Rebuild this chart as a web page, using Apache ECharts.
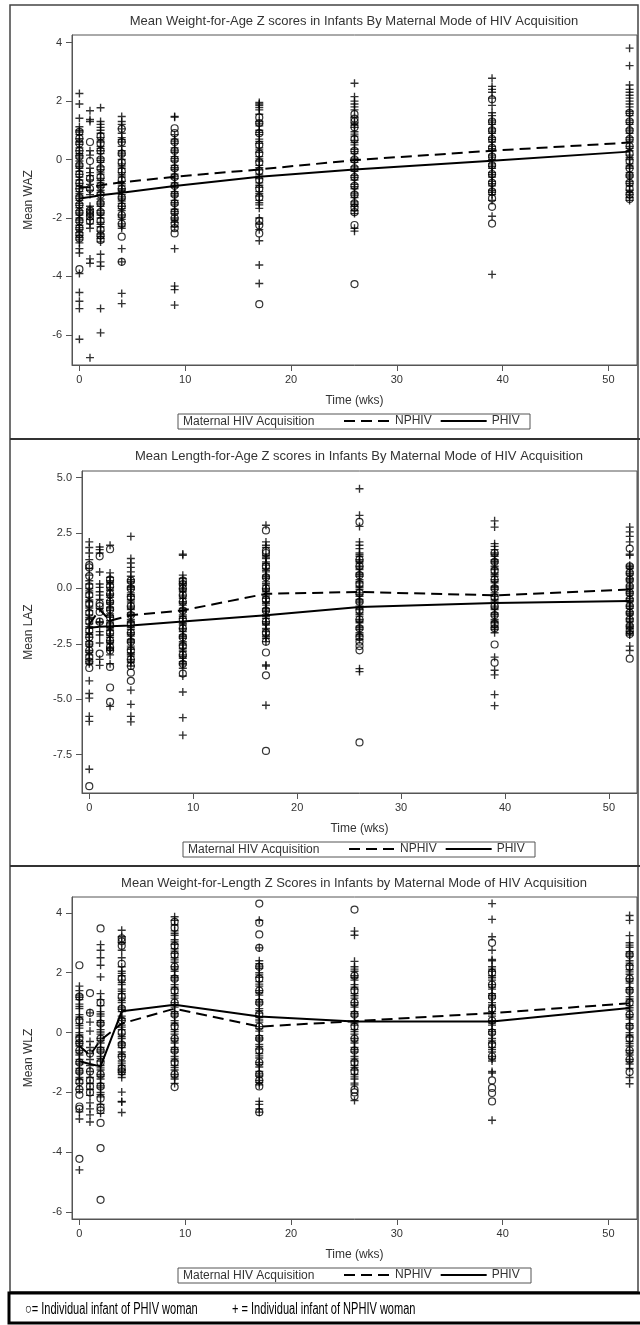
<!DOCTYPE html>
<html>
<head>
<meta charset="utf-8">
<script src="https://cdn.jsdelivr.net/npm/echarts@6/dist/echarts.min.js"></script>
<style>
html, body { margin: 0; padding: 0; background: #fff; }
#chart { width: 640px; height: 1325px; }
</style>
</head>
<body>
<div id="chart"></div>
<script>
// visit weeks, shared by all three panels
var weeks = [0, 1, 2, 4, 9, 17, 26, 39, 52];
var xTicks = [0, 10, 20, 30, 40, 50];

// ---- weight-for-age ----
var wazTicks = [-6, -4, -2, 0, 2, 4];
var wazMeanNphiv = [-0.95, -0.95, -0.88, -0.78, -0.59, -0.34, -0.02, 0.30, 0.58];
var wazMeanPhiv = [-1.33, -1.28, -1.22, -1.14, -0.91, -0.59, -0.34, -0.04, 0.27];
// one list per week (circles = infants of PHIV women)
var wazCirc = [
    [0.95, 0.72, 0.55, 0.3, 0.1, -0.2, -0.5, -0.8, -1.0, -1.3, -1.55, -1.8, -2.1, -2.35, -2.55, -2.7, -3.75],
    [0.6, -0.05, -0.65, -1.0, -1.75, -1.85, -1.95, -2.1],
    [0.8, 0.55, 0.3, 0.0, -0.3, -0.6, -0.9, -1.2, -1.5, -1.8, -2.1, -2.4, -2.6, -2.75],
    [1.05, 0.6, 0.2, -0.1, -0.4, -0.7, -1.0, -1.3, -1.6, -1.9, -2.2, -2.64, -3.5],
    [1.07, 0.9, 0.6, 0.3, 0.0, -0.3, -0.6, -0.9, -1.2, -1.5, -1.8, -2.0, -2.2, -2.35, -2.53],
    [1.44, 1.25, 0.9, 0.5, 0.2, -0.1, -0.4, -0.7, -1.0, -1.3, -2.1, -2.25, -2.53, -4.95],
    [1.55, 1.4, 1.3, 1.1, 0.7, 0.3, 0.0, -0.3, -0.6, -0.9, -1.2, -1.5, -1.65, -1.8, -2.24, -4.26],
    [2.06, 1.3, 1.0, 0.7, 0.4, 0.1, -0.2, -0.5, -0.8, -1.1, -1.33, -1.62, -2.19],
    [1.6, 1.3, 1.0, 0.7, 0.45, 0.2, -0.05, -0.3, -0.55, -0.8, -1.0, -1.2, -1.35]
];
// plus = infants of NPHIV women
var wazPlus = [
    [2.26, 1.9, 1.41, 1.12, 1.0, 0.85, 0.6, 0.4, 0.3, 0.2, 0.05, -0.05, -0.15, -0.3, -0.4, -0.6, -0.7, -0.9, -1.0, -1.1, -1.25, -1.4, -1.5, -1.65, -1.75, -1.9, -2.0, -2.15, -2.25, -2.4, -2.5, -2.6, -2.75, -2.85, -3.05, -3.2, -3.9, -4.55, -4.85, -5.1, -6.15,
     0.94, 0.71, 0.52, 0.13, -0.23, -0.51, -0.82, -1.17, -1.33, -1.57, -1.83, -2.07, -2.33, -2.67],
    [1.67, 1.37, 1.3, 0.3, 0.15, -0.3, -0.45, -0.55, -0.7, -0.85, -1.05, -1.2, -1.6, -1.7, -1.8, -1.9, -2.05, -2.2, -2.35, -3.4, -3.55, -6.78],
    [1.77, 1.3, 1.2, 1.1, 1.0, 0.9, 0.75, 0.6, 0.45, 0.3, 0.2, 0.05, -0.1, -0.25, -0.35, -0.5, -0.65, -0.8, -0.95, -1.05, -1.2, -1.35, -1.45, -1.6, -1.75, -1.9, -2.0, -2.15, -2.3, -2.45, -2.55, -2.7, -2.82, -3.24, -3.5, -3.65, -5.1, -5.93,
     0.67, 0.38, -0.03, -0.43, -0.72, -1.13, -1.52, -1.83, -2.22, -2.63],
    [1.47, 1.3, 1.2, 1.05, 0.9, 0.75, 0.6, 0.45, 0.3, 0.15, 0.0, -0.15, -0.3, -0.45, -0.6, -0.75, -0.9, -1.0, -1.1, -1.2, -1.35, -1.5, -1.6, -1.75, -1.9, -2.05, -2.2, -2.35, -3.05, -3.5, -4.58, -4.93,
     0.68, 0.22, -0.22, -0.53, -0.83, -1.05, -1.28, -1.42, -1.68, -1.97, -2.28],
    [1.47, 1.45, 0.85, 0.7, 0.55, 0.4, 0.25, 0.1, -0.05, -0.2, -0.35, -0.5, -0.65, -0.8, -0.95, -1.1, -1.25, -1.4, -1.55, -1.7, -1.85, -2.0, -2.15, -2.3, -3.05, -4.33, -4.45, -4.98,
     0.63, 0.32, 0.03, -0.28, -0.57, -0.88, -1.17, -1.48, -1.78, -2.07],
    [1.95, 1.9, 1.85, 1.78, 1.7, 1.55, 1.3, 1.15, 1.0, 0.85, 0.7, 0.55, 0.4, 0.25, 0.1, -0.05, -0.2, -0.35, -0.5, -0.65, -0.8, -0.95, -1.1, -1.25, -1.4, -1.55, -1.67, -2.0, -2.2, -2.4, -2.78, -3.61, -4.24,
     1.22, 0.93, 0.62, 0.33, 0.02, -0.28, -0.57, -0.88, -1.17, -1.48],
    [2.61, 2.15, 2.0, 1.9, 1.8, 1.7, 1.45, 1.25, 1.1, 0.95, 0.8, 0.65, 0.5, 0.35, 0.2, 0.05, -0.1, -0.25, -0.4, -0.55, -0.7, -0.85, -1.0, -1.15, -1.3, -1.45, -1.6, -1.75, -1.85, -2.35, -2.45,
     1.18, 0.87, 0.58, 0.27, -0.02, -0.33, -0.62, -0.93, -1.22, -1.53],
    [2.78, 2.5, 2.4, 2.3, 2.1, 1.85, 1.6, 1.5, 1.35, 1.2, 1.05, 0.9, 0.75, 0.6, 0.45, 0.3, 0.15, 0.0, -0.15, -0.3, -0.45, -0.6, -0.75, -0.9, -1.05, -1.2, -1.4, -1.94, -3.93,
     1.28, 0.97, 0.68, 0.37, 0.08, -0.23, -0.52, -0.83, -1.12],
    [3.81, 3.21, 2.55, 2.4, 2.3, 2.2, 2.1, 2.0, 1.9, 1.8, 1.65, 1.5, 1.35, 1.2, 1.05, 0.9, 0.75, 0.6, 0.45, 0.3, 0.15, 0.0, -0.15, -0.3, -0.45, -0.6, -0.75, -0.9, -1.05, -1.2, -1.3, -1.4,
     1.58, 1.27, 0.98, 0.67, 0.38, 0.07, -0.22, -0.53, -0.82, -1.13]
];

// ---- length-for-age ----
var lazTicks = [-7.5, -5.0, -2.5, 0.0, 2.5, 5.0];
var lazMeanNphiv = [-1.62, -0.95, -1.45, -1.21, -0.99, -0.24, -0.16, -0.31, -0.05];
var lazMeanPhiv = [-1.77, -1.73, -1.70, -1.67, -1.49, -1.21, -0.84, -0.66, -0.57];
var lazCirc = [
    [1.05, 0.95, 0.56, 0.1, -0.3, -0.7, -1.1, -1.5, -1.9, -2.2, -2.5, -2.8, -3.1, -3.3, -3.59, -8.92],
    [1.45, -0.68, -0.8, -1.06, -1.5, -2.94],
    [1.77, 0.4, 0.1, -0.25, -0.6, -0.95, -1.3, -1.65, -2.0, -2.35, -2.65, -2.8, -3.54, -4.47, -5.12],
    [0.35, 0.0, -0.4, -0.8, -1.2, -1.6, -2.0, -2.4, -2.8, -3.2, -3.5, -3.8, -4.17],
    [0.35, 0.2, 0.0, -0.3, -0.6, -1.0, -1.4, -1.8, -2.2, -2.6, -3.0, -3.4, -3.84],
    [2.62, 1.7, 1.6, 1.0, 0.5, 0.0, -0.5, -1.0, -1.5, -2.0, -2.4, -2.89, -3.92, -7.33],
    [3.0, 1.3, 1.0, 0.6, 0.2, -0.2, -0.6, -1.0, -1.4, -1.8, -2.2, -2.4, -2.6, -2.79, -6.95],
    [1.6, 1.2, 0.8, 0.4, 0.0, -0.4, -0.8, -1.2, -1.6, -1.8, -2.53, -3.35],
    [1.8, 1.0, 0.7, 0.4, 0.1, -0.2, -0.5, -0.8, -1.1, -1.4, -1.7, -1.9, -2.05, -3.17]
];
var lazPlus = [
    [2.1, 1.85, 1.6, 1.3, 0.9, 0.6, 0.35, 0.2, 0.0, -0.2, -0.4, -0.6, -0.8, -1.0, -1.2, -1.4, -1.6, -1.8, -2.0, -2.2, -2.4, -2.6, -2.8, -3.0, -3.2, -3.4, -4.17, -4.74, -4.95, -5.77, -6.0, -8.16,
     -0.11, -0.52, -0.88, -1.31, -1.72, -2.08, -2.51, -2.89, -3.31],
    [1.87, 1.75, 1.6, 0.74, 0.2, 0.05, -0.15, -0.3, -0.5, -0.9, -1.5, -1.55, -1.95, -2.1, -2.46, -3.2, -3.47],
    [1.95, 0.7, 0.5, 0.35, 0.2, 0.05, -0.1, -0.25, -0.4, -0.55, -0.7, -0.85, -1.0, -1.15, -1.3, -1.45, -1.6, -1.75, -1.9, -2.05, -2.2, -2.35, -2.5, -2.65, -2.8, -3.0, -3.4, -5.32,
     0.28, -0.03, -0.32, -0.63, -0.92, -1.23, -1.52, -1.83, -2.12, -2.43, -2.72],
    [2.35, 1.35, 1.15, 0.95, 0.75, 0.55, 0.4, 0.25, 0.1, -0.05, -0.2, -0.35, -0.5, -0.65, -0.8, -0.95, -1.1, -1.25, -1.4, -1.55, -1.7, -1.85, -2.0, -2.15, -2.3, -2.45, -2.6, -2.75, -2.9, -3.05, -3.2, -3.35, -3.5, -4.59, -5.23, -5.77, -6.02,
     0.32, 0.03, -0.28, -0.57, -0.88, -1.17, -1.48, -1.77, -2.08, -2.37, -2.68, -2.97, -3.28],
    [1.55, 1.5, 0.6, 0.45, 0.3, 0.15, 0.0, -0.15, -0.3, -0.45, -0.6, -0.75, -0.9, -1.05, -1.2, -1.35, -1.5, -1.65, -1.8, -1.95, -2.1, -2.25, -2.4, -2.55, -2.7, -2.85, -3.0, -3.15, -3.3, -3.45, -3.6, -3.95, -4.67, -5.83, -6.62,
     0.22, -0.07, -0.38, -0.67, -0.98, -1.27, -1.58, -1.87, -2.18, -2.47, -2.78, -3.07, -3.38],
    [2.85, 2.1, 1.95, 1.85, 1.5, 1.35, 1.2, 1.05, 0.9, 0.75, 0.6, 0.45, 0.3, 0.15, 0.0, -0.15, -0.3, -0.45, -0.6, -0.75, -0.9, -1.05, -1.2, -1.35, -1.5, -1.65, -1.8, -1.95, -2.1, -2.25, -2.4, -3.45, -3.5, -5.27,
     1.42, 1.13, 0.82, 0.53, 0.22, -0.07, -0.38, -0.67, -0.98, -1.27, -1.58, -1.87, -2.18],
    [4.5, 3.3, 2.8, 2.1, 1.95, 1.8, 1.6, 1.45, 1.3, 1.15, 1.0, 0.85, 0.7, 0.55, 0.4, 0.25, 0.1, -0.05, -0.2, -0.35, -0.5, -0.65, -0.8, -0.95, -1.1, -1.25, -1.4, -1.55, -1.7, -1.85, -2.0, -2.15, -2.3, -3.62, -3.75,
     1.52, 1.23, 0.92, 0.63, 0.32, 0.03, -0.28, -0.57, -0.88, -1.17, -1.48, -1.77, -2.08],
    [3.05, 2.77, 2.02, 1.9, 1.75, 1.6, 1.45, 1.3, 1.15, 1.0, 0.85, 0.7, 0.55, 0.4, 0.25, 0.1, -0.05, -0.2, -0.35, -0.5, -0.65, -0.8, -0.95, -1.1, -1.25, -1.4, -1.55, -1.7, -1.85, -2.0, -3.1, -3.69, -3.9, -4.79, -5.29,
     1.52, 1.23, 0.92, 0.63, 0.32, 0.03, -0.28, -0.57, -0.88, -1.17, -1.48, -1.77],
    [2.77, 2.55, 2.35, 2.1, 1.55, 1.5, 1.05, 0.9, 0.75, 0.6, 0.45, 0.3, 0.15, 0.0, -0.15, -0.3, -0.45, -0.6, -0.75, -0.9, -1.05, -1.2, -1.35, -1.5, -1.65, -1.8, -1.95, -2.1, -2.6, -2.8,
     0.98, 0.67, 0.38, 0.07, -0.22, -0.53, -0.82, -1.13, -1.42, -1.73, -2.02]
];

// ---- weight-for-length ----
var wlzTicks = [-6, -4, -2, 0, 2, 4];
var wlzMeanNphiv = [-0.45, -0.75, -0.25, 0.30, 0.80, 0.20, 0.38, 0.65, 0.98];
var wlzMeanPhiv = [-0.96, -1.05, -1.13, 0.71, 0.93, 0.54, 0.37, 0.37, 0.82];
var wlzCirc = [
    [2.25, 1.2, 0.4, -0.2, -0.35, -0.6, -1.0, -1.3, -1.65, -1.9, -2.08, -2.47, -2.55, -4.22],
    [1.32, 0.66, -0.7, -1.3, -1.6, -1.8, -2.0],
    [3.48, 1.0, 0.3, -0.2, -0.6, -1.0, -1.4, -1.8, -2.2, -2.5, -2.6, -3.02, -3.86, -5.59],
    [3.15, 3.05, 2.9, 2.3, 1.8, 1.2, 0.8, 0.4, 0.0, -0.4, -0.8, -1.2, -1.3],
    [3.7, 3.5, 2.9, 2.6, 2.2, 1.8, 1.4, 1.0, 0.6, 0.2, -0.2, -0.6, -1.0, -1.4, -1.82],
    [4.31, 3.67, 3.28, 2.83, 2.2, 1.8, 1.4, 1.0, 0.6, 0.2, -0.2, -0.6, -1.0, -1.4, -1.6, -1.8, -2.66],
    [4.11, 1.9, 1.4, 1.0, 0.6, 0.2, -0.2, -0.6, -1.0, -1.3, -1.91, -2.0, -2.13],
    [3.0, 2.0, 1.6, 1.2, 0.8, 0.4, 0.0, -0.4, -0.8, -1.6, -1.85, -2.02, -2.3],
    [2.6, 2.2, 1.8, 1.4, 1.0, 0.6, 0.2, -0.2, -0.6, -0.9, -1.32]
];
var wlzPlus = [
    [1.55, 1.4, 1.25, 1.1, 0.95, 0.8, 0.6, 0.45, 0.3, 0.15, 0.0, -0.15, -0.3, -0.45, -0.6, -0.75, -0.9, -1.05, -1.2, -1.35, -1.5, -1.7, -1.9, -2.65, -2.89, -4.59,
     1.18, 0.87, 0.52, 0.23, -0.08, -0.37, -0.68, -0.97, -1.28, -1.57],
    [0.66, 0.35, 0.05, -0.3, -0.5, -0.7, -0.9, -1.1, -1.3, -1.5, -1.7, -1.9, -2.1, -2.35, -2.55, -2.75, -2.99],
    [2.94, 2.75, 2.5, 2.25, 1.86, 1.3, 1.1, 0.9, 0.7, 0.55, 0.4, 0.25, 0.1, -0.05, -0.2, -0.35, -0.5, -0.65, -0.8, -0.95, -1.1, -1.25, -1.4, -1.55, -1.7, -1.85, -2.0, -2.15, -2.4, -2.7,
     0.62, 0.33, 0.02, -0.27, -0.58, -0.87, -1.18, -1.47, -1.78, -2.07],
    [3.42, 3.2, 3.0, 2.75, 2.5, 2.2, 2.05, 1.9, 1.75, 1.6, 1.45, 1.3, 1.15, 1.0, 0.85, 0.7, 0.55, 0.4, 0.25, 0.1, -0.05, -0.2, -0.35, -0.5, -0.65, -0.8, -0.95, -1.1, -1.25, -1.4, -1.5, -1.99, -2.3, -2.32, -2.67,
     1.98, 1.67, 1.38, 1.07, 0.78, 0.47, 0.18, -0.13, -0.42, -0.73, -1.02, -1.33],
    [3.87, 3.75, 3.6, 3.4, 3.25, 3.1, 2.95, 2.8, 2.65, 2.5, 2.35, 2.2, 2.05, 1.9, 1.75, 1.6, 1.45, 1.3, 1.15, 1.0, 0.85, 0.7, 0.55, 0.4, 0.25, 0.1, -0.05, -0.2, -0.35, -0.5, -0.65, -0.8, -0.95, -1.1, -1.25, -1.4, -1.55, -1.7,
     3.32, 3.03, 2.72, 2.43, 2.12, 1.83, 1.52, 1.23, 0.92, 0.63, 0.32, 0.03, -0.28, -0.57, -0.88, -1.17, -1.48],
    [3.75, 2.83, 2.4, 2.3, 2.15, 2.0, 1.85, 1.7, 1.55, 1.4, 1.25, 1.1, 0.95, 0.8, 0.65, 0.5, 0.35, 0.2, 0.05, -0.1, -0.25, -0.4, -0.55, -0.7, -0.85, -1.0, -1.15, -1.3, -1.45, -1.6, -1.75, -2.3, -2.4, -2.55, -2.66,
     2.22, 1.93, 1.62, 1.33, 1.02, 0.73, 0.42, 0.13, -0.18, -0.47, -0.78, -1.07, -1.38, -1.67],
    [3.39, 3.25, 2.38, 2.2, 2.05, 1.9, 1.75, 1.6, 1.45, 1.3, 1.15, 1.0, 0.85, 0.7, 0.55, 0.4, 0.25, 0.1, -0.05, -0.2, -0.35, -0.5, -0.65, -0.8, -0.95, -1.1, -1.25, -1.4, -1.55, -1.69, -1.75, -2.27,
     2.12, 1.83, 1.52, 1.23, 0.92, 0.63, 0.32, 0.03, -0.28, -0.57, -0.88, -1.17, -1.48],
    [4.31, 3.78, 3.2, 2.75, 2.44, 2.4, 2.2, 2.05, 1.9, 1.75, 1.6, 1.45, 1.3, 1.15, 1.0, 0.85, 0.7, 0.55, 0.4, 0.25, 0.1, -0.05, -0.2, -0.35, -0.5, -0.65, -0.8, -0.95, -1.3, -1.35, -2.93,
     2.12, 1.83, 1.52, 1.23, 0.92, 0.63, 0.32, 0.03, -0.28, -0.57, -0.88],
    [3.91, 3.75, 3.24, 3.0, 2.85, 2.7, 2.55, 2.4, 2.25, 2.1, 1.95, 1.8, 1.65, 1.5, 1.35, 1.2, 1.05, 0.9, 0.75, 0.6, 0.45, 0.3, 0.15, 0.0, -0.15, -0.3, -0.45, -0.6, -0.75, -0.9, -1.05, -1.2, -1.5, -1.71,
     2.92, 2.63, 2.32, 2.03, 1.72, 1.43, 1.12, 0.83, 0.52, 0.23, -0.08, -0.37, -0.68, -0.97]
];

var FONT = '"Liberation Sans", Arial, sans-serif';
var PLUS = 'path://M0,4.15H10V5.85H0Z M4.15,0H5.85V10H4.15Z';

function toPoints(cols) {
    var out = [];
    cols.forEach(function (col, i) {
        col.forEach(function (v) { out.push([weeks[i], v]); });
    });
    return out;
}
function toLine(means) {
    return weeks.map(function (w, i) { return [w, means[i]]; });
}

// layout of the three panels
var panels = [
    { title: 'Mean Weight-for-Age Z scores in Infants By Maternal Mode of HIV Acquisition',
      yName: 'Mean WAZ', ticks: wazTicks, yMin: -7.03, yMax: 4.26, dec: 0,
      circ: wazCirc, plus: wazPlus, mPhiv: wazMeanPhiv, mNphiv: wazMeanNphiv,
      grid: { left: 72, top: 35, width: 565, height: 330 }, titleX: 354, titleY: 15, yGap: 37, legendY: 414, boxX: 178, boxW: 352 },
    { title: 'Mean Length-for-Age Z scores in Infants By Maternal Mode of HIV Acquisition',
      yName: 'Mean LAZ', ticks: lazTicks, yMin: -9.23, yMax: 5.30, dec: 1,
      circ: lazCirc, plus: lazPlus, mPhiv: lazMeanPhiv, mNphiv: lazMeanNphiv,
      grid: { left: 82, top: 471, width: 555, height: 322 }, titleX: 359, titleY: 450, yGap: 47, legendY: 842, boxX: 183, boxW: 352 },
    { title: 'Mean Weight-for-Length Z Scores in Infants by Maternal Mode of HIV Acquisition',
      yName: 'Mean WLZ', ticks: wlzTicks, yMin: -6.23, yMax: 4.53, dec: 0,
      circ: wlzCirc, plus: wlzPlus, mPhiv: wlzMeanPhiv, mNphiv: wlzMeanNphiv,
      grid: { left: 72, top: 897, width: 565, height: 322 }, titleX: 354, titleY: 877, yGap: 37, legendY: 1268, boxX: 178, boxW: 353 }
];

var option = {
    animation: false,
    backgroundColor: '#fff',
    title: [], grid: [], xAxis: [], yAxis: [], series: [], legend: [], graphic: []
};

panels.forEach(function (p, i) {
    option.title.push({
        text: p.title, left: p.titleX, top: p.titleY, textAlign: 'center', padding: 0,
        textStyle: { fontSize: 13, fontWeight: 'normal', color: '#333', fontFamily: FONT }
    });
    option.grid.push({
        left: p.grid.left, top: p.grid.top, width: p.grid.width, height: p.grid.height,
        show: true, borderColor: '#555', borderWidth: 1
    });
    option.xAxis.push({
        type: 'value', gridIndex: i, min: -0.7, max: 52.7,
        name: 'Time (wks)', nameLocation: 'middle', nameGap: 30,
        nameTextStyle: { fontSize: 12, color: '#333', fontFamily: FONT },
        axisLine: { show: true, onZero: false, lineStyle: { color: '#555' } },
        axisTick: { show: true, length: 6, customValues: xTicks, lineStyle: { color: '#555' } },
        axisLabel: { customValues: xTicks, fontSize: 11, color: '#333', margin: 9, fontFamily: FONT },
        splitLine: { show: false }
    });
    option.yAxis.push({
        type: 'value', gridIndex: i, min: p.yMin, max: p.yMax,
        name: p.yName, nameLocation: 'middle', nameGap: p.yGap, nameRotate: 90,
        nameTextStyle: { fontSize: 12, color: '#333', fontFamily: FONT },
        axisLine: { show: true, onZero: false, lineStyle: { color: '#555' } },
        axisTick: { show: true, length: 6, customValues: p.ticks, lineStyle: { color: '#555' } },
        axisLabel: {
            customValues: p.ticks, fontSize: 11, color: '#333', margin: 10, fontFamily: FONT,
            formatter: (function (d) { return function (v) { return v.toFixed(d); }; })(p.dec)
        },
        splitLine: { show: false }
    });
    option.series.push({
        name: 'PHIV infant', type: 'scatter', xAxisIndex: i, yAxisIndex: i, silent: true,
        symbol: 'circle', symbolSize: 7,
        itemStyle: { color: 'rgba(0,0,0,0)', borderColor: '#000', borderWidth: 1.2 },
        data: toPoints(p.circ)
    });
    option.series.push({
        name: 'NPHIV infant', type: 'scatter', xAxisIndex: i, yAxisIndex: i, silent: true,
        symbol: PLUS, symbolSize: 8,
        itemStyle: { color: '#000' },
        data: toPoints(p.plus)
    });
    option.series.push({
        name: 'NPHIV', type: 'line', xAxisIndex: i, yAxisIndex: i, silent: true,
        symbol: 'none', z: 5,
        itemStyle: { color: 'rgba(0,0,0,0)', borderWidth: 0 },
        lineStyle: { color: '#000', width: 2, type: [11, 6] },
        data: toLine(p.mNphiv)
    });
    option.series.push({
        name: 'PHIV', type: 'line', xAxisIndex: i, yAxisIndex: i, silent: true,
        symbol: 'none', z: 5,
        itemStyle: { color: 'rgba(0,0,0,0)', borderWidth: 0 },
        lineStyle: { color: '#000', width: 2, type: 'solid' },
        data: toLine(p.mPhiv)
    });
    option.legend.push({
        data: ['NPHIV', 'PHIV'], left: p.boxX + 165, top: p.legendY + 1, padding: 0,
        itemWidth: 46, itemHeight: 12, itemGap: 8, selectedMode: false,
        itemStyle: { color: 'rgba(0,0,0,0)', borderWidth: 0 },
        textStyle: { fontSize: 12, color: '#333', fontFamily: FONT }
    });
    option.graphic.push({
        type: 'rect', shape: { x: p.boxX, y: p.legendY, width: p.boxW, height: 15 },
        style: { fill: 'none', stroke: '#555', lineWidth: 1 }, silent: true
    });
    option.graphic.push({
        type: 'text', x: p.boxX + 5, y: p.legendY + 8, silent: true,
        style: { text: 'Maternal HIV Acquisition', font: '12px ' + FONT, fill: '#333',
                 textAlign: 'left', textVerticalAlign: 'middle' }
    });
});

// panel frames and the marker key at the bottom
var keyFont = '16px "Liberation Sans", Arial, sans-serif';
option.graphic.push(
    { type: 'rect', shape: { x: 10, y: 5, width: 628, height: 1287 }, style: { fill: 'none', stroke: '#444', lineWidth: 1.5 }, silent: true },
    { type: 'line', shape: { x1: 10, y1: 439, x2: 640, y2: 439 }, style: { stroke: '#333', lineWidth: 2 }, silent: true },
    { type: 'line', shape: { x1: 10, y1: 866, x2: 640, y2: 866 }, style: { stroke: '#333', lineWidth: 2 }, silent: true },
    { type: 'rect', shape: { x: 9, y: 1293, width: 633, height: 30 }, style: { fill: '#fff', stroke: '#000', lineWidth: 3 }, silent: true },
    { type: 'text', x: 25, y: 1310, scaleX: 0.69, silent: true,
      style: { text: '\u25cb= Individual infant of PHIV woman', font: keyFont, fill: '#000', textAlign: 'left', textVerticalAlign: 'middle' } },
    { type: 'text', x: 232, y: 1310, scaleX: 0.69, silent: true,
      style: { text: '+ = Individual infant of NPHIV woman', font: keyFont, fill: '#000', textAlign: 'left', textVerticalAlign: 'middle' } }
);

var chart = echarts.init(document.getElementById('chart'));
chart.setOption(option);
window.addEventListener('resize', function () {
    chart.resize();
});
</script>
</body>
</html>
